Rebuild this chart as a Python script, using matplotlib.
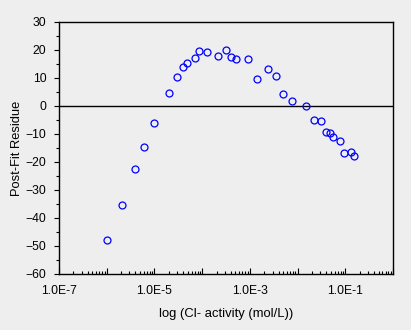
import numpy as np
import matplotlib
matplotlib.use('Agg')
import matplotlib.pyplot as plt
from matplotlib.ticker import FixedLocator, FuncFormatter, MultipleLocator, LogLocator

plt.rcParams['font.family'] = ['Liberation Sans', 'DejaVu Sans']

# log10 of Cl- activity and the post-fit residue at each point
log_act = [-5.99, -5.69, -5.40, -5.21, -5.00, -4.69, -4.52, -4.40, -4.31, -4.16,
           -4.06, -3.89, -3.66, -3.51, -3.39, -3.29, -3.03, -2.86, -2.62, -2.46,
           -2.30, -2.11, -1.83, -1.65, -1.50, -1.41, -1.32, -1.25, -1.12, -1.02,
           -0.89, -0.81]
residue = [-47.9, -35.4, -22.5, -14.6, -6.1, 4.6, 10.4, 14.1, 15.5, 17.1,
           19.6, 19.3, 17.9, 20.0, 17.5, 16.8, 16.8, 9.6, 13.2, 10.7,
           4.3, 1.9, 0.0, -5.0, -5.4, -9.3, -9.5, -10.9, -12.5, -16.8,
           -16.3, -17.9]

activity = 10.0 ** np.array(log_act)
bg = '#eeeeee'

fig = plt.figure(figsize=(4.11, 3.30), dpi=100, facecolor=bg)
ax = fig.add_axes([59/411, 1 - 274/330, (393 - 59)/411, (274 - 22)/330])
ax.set_facecolor(bg)

ax.axhline(0, color='black', lw=1.0)
ax.plot(activity, residue, 'o', mfc='none', mec='blue', ms=5, mew=0.9)

ax.set_xscale('log')
ax.set_xlim(1e-7, 1)
ax.set_ylim(-60, 30)

ax.xaxis.set_major_locator(FixedLocator([10.0**k for k in range(-7, 1)]))
ax.xaxis.set_minor_locator(LogLocator(base=10, subs=np.arange(2, 10), numticks=20))
ax.xaxis.set_major_formatter(FuncFormatter(
    lambda v, p: '1.0E%d' % round(np.log10(v)) if round(np.log10(v)) % 2 else ''))
ax.xaxis.set_minor_formatter(FuncFormatter(lambda v, p: ''))

ax.yaxis.set_major_locator(MultipleLocator(10))
ax.yaxis.set_minor_locator(MultipleLocator(5))

ax.tick_params(axis='x', which='major', direction='in', length=4, width=0.8,
               labelsize=8.7, pad=8)
ax.tick_params(axis='x', which='minor', direction='in', length=2.2, width=0.8)
ax.tick_params(axis='y', which='major', direction='out', length=3.6, width=0.8,
               labelsize=8.7, pad=5.5)
ax.tick_params(axis='y', which='minor', direction='out', length=2.2, width=0.8)

for s in ax.spines.values():
    s.set_linewidth(1.0)

ax.set_xlabel('log (Cl- activity (mol/L))', fontsize=9.4, labelpad=8)
ax.set_ylabel('Post-Fit Residue', fontsize=9.3, labelpad=2)

fig.savefig('out.png', dpi=100, facecolor=bg)
